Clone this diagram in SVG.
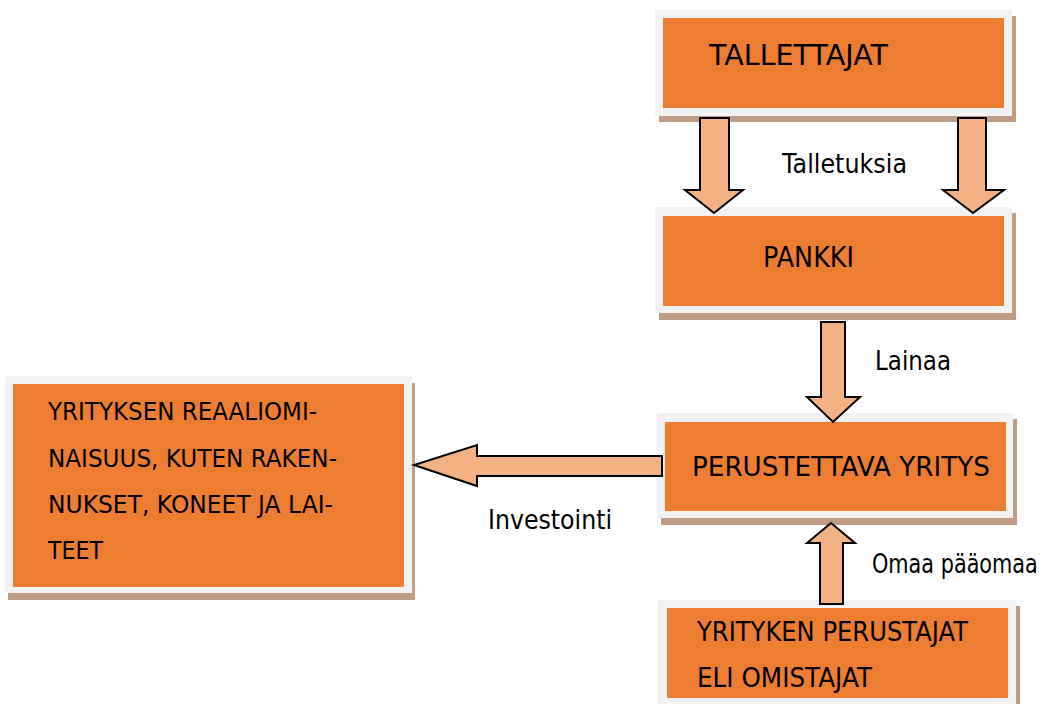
<svg xmlns="http://www.w3.org/2000/svg" width="1058" height="704" viewBox="0 0 1058 704">
<style>
.shadow{fill:#C19C84}
.frame{fill:#F2F2F2}
.box{fill:#ED7D31}
.t{font-family:"DejaVu Sans","Liberation Sans",sans-serif;font-size:26px;fill:#000}
.lbl{font-family:"DejaVu Sans","Liberation Sans",sans-serif;font-size:26px;fill:#000}
.arr{fill:#F4B183;stroke:#000;stroke-width:2;stroke-linejoin:miter}
</style>
<rect width="1058" height="704" fill="#FFFFFF"/>
<g id="node-tallettajat">
<rect class="shadow" x="659" y="16" width="357" height="106"/>
<rect class="frame" x="655" y="10" width="357" height="106"/>
<rect class="box" x="663" y="18" width="341" height="90"/>
<text class="t" x="709" y="65" style="font-size:29px" textLength="179" lengthAdjust="spacingAndGlyphs">TALLETTAJAT</text>
</g>
<g id="node-pankki">
<rect class="shadow" x="659" y="213" width="357" height="107"/>
<rect class="frame" x="655" y="207" width="357" height="106"/>
<rect class="box" x="663" y="216" width="341" height="90"/>
<text class="t" x="763" y="267" style="font-size:28px" textLength="91" lengthAdjust="spacingAndGlyphs">PANKKI</text>
</g>
<g id="node-reaaliomaisuus">
<rect class="shadow" x="8" y="383" width="407" height="217"/>
<rect class="frame" x="5" y="376" width="407" height="217"/>
<rect class="box" x="13" y="384" width="391" height="203"/>
<text class="t" x="48" y="420" style="font-size:25px" textLength="269" lengthAdjust="spacingAndGlyphs">YRITYKSEN REAALIOMI-</text>
<text class="t" x="48" y="467" style="font-size:25px" textLength="289" lengthAdjust="spacingAndGlyphs">NAISUUS, KUTEN RAKEN-</text>
<text class="t" x="48" y="513" style="font-size:25px" textLength="285" lengthAdjust="spacingAndGlyphs">NUKSET, KONEET JA LAI-</text>
<text class="t" x="48" y="559" style="font-size:25px" textLength="55" lengthAdjust="spacingAndGlyphs">TEET</text>
</g>
<g id="node-perustettava">
<rect class="shadow" x="661" y="419" width="356" height="106"/>
<rect class="frame" x="657" y="413" width="356" height="105"/>
<rect class="box" x="665" y="422" width="341" height="89"/>
<text class="t" x="692" y="476" style="font-size:26.5px" textLength="298" lengthAdjust="spacingAndGlyphs">PERUSTETTAVA YRITYS</text>
</g>
<g id="node-perustajat">
<rect class="shadow" x="662" y="606" width="358" height="110"/>
<rect class="frame" x="658" y="600" width="358" height="110"/>
<rect class="box" x="667" y="608" width="341" height="90"/>
<text class="t" x="697" y="641" textLength="271" lengthAdjust="spacingAndGlyphs">YRITYKEN PERUSTAJAT</text>
<text class="t" x="697" y="687" textLength="175" lengthAdjust="spacingAndGlyphs">ELI OMISTAJAT</text>
</g>
<g id="connectors">
<polygon class="arr" points="700,118 729,118 729,190 743,190 714,213 685,190 700,190"/>
<polygon class="arr" points="958,118 986,118 986,190 1004,190 973,213 943,190 958,190"/>
<polygon class="arr" points="821,322 845,322 845,397 860,397 833,422 807,397 821,397"/>
<polygon class="arr" points="662,456 662,476 477,476 477,486 414,465 477,445 477,456"/>
<polygon class="arr" points="820,604 843,604 843,543 855,543 831,523 807,543 820,543"/>
<text class="lbl" x="782" y="173" textLength="125" lengthAdjust="spacingAndGlyphs">Talletuksia</text>
<text class="lbl" x="875" y="370" textLength="76" lengthAdjust="spacingAndGlyphs">Lainaa</text>
<text class="lbl" x="488" y="529" textLength="124" lengthAdjust="spacingAndGlyphs">Investointi</text>
<text class="lbl" x="0" y="0" transform="translate(872,573) scale(0.8,1)">Omaa pääomaa</text>
</g>
</svg>
